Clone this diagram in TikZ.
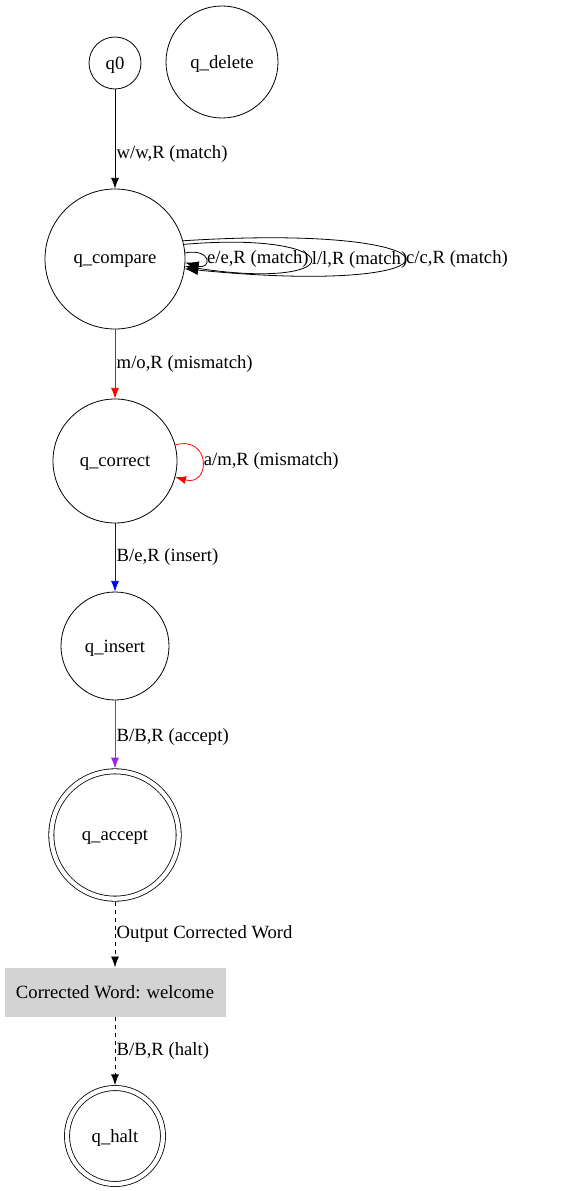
\documentclass[tikz,border=0pt]{standalone}
\usepackage{fontspec}
\setmainfont{Liberation Serif}
\usetikzlibrary{arrows.meta,positioning}

\definecolor{gvpurple}{RGB}{160,32,240}
\definecolor{gvgrey}{RGB}{211,211,211}

\begin{document}
\begin{tikzpicture}
        [x=0.75pt,y=-0.75pt,>={Latex[length=8pt,width=6pt]},
        every node/.style={font=\fontsize{14}{16}\selectfont},
        state/.style={draw,circle,inner sep=0pt,text depth=0pt,line width=0.6pt},
        final/.style={state,double,double distance=3.2pt,outer sep=2.2pt},
        lbl/.style={inner sep=1pt,anchor=west},
        edge/.style={->,line width=0.6pt},
        bigtip/.style={-{Latex[length=10pt,width=7.5pt]}}]

        \useasboundingbox (0,0) rectangle (561,1191);

        \node[state,minimum size=39pt] (q0) at (115,63) {q0};
        \node[state,minimum size=84pt] (del) at (222,62) {q\_delete};
        \node[state,minimum size=105pt] (cmp) at (115,259) {q\_compare};
        \node[state,minimum size=93pt] (cor) at (115,461) {q\_correct};
        \node[state,minimum size=81pt] (ins) at (115,646) {q\_insert};
        \node[final,minimum size=95.5pt] (acc) at (115,835) {q\_accept};
        \node[fill=gvgrey,minimum width=165.75pt,minimum height=36.75pt,inner sep=0pt] (word) at (115,992) {Corrected Word: welcome};
        \node[final,minimum size=72pt] (halt) at (115,1136) {q\_halt};

        \draw[edge] (q0) -- node[lbl,pos=0.65] {w/w,R (match)} (cmp);
        \draw[edge,bigtip] (cmp.5) .. controls (212,248) and (212,270) .. node[lbl,pos=0.5] {e/e,R (match)} (cmp.-3);
        \draw[edge,bigtip] (cmp.12) .. controls (352,230) and (352,292) .. node[lbl,pos=0.5] {l/l,R (match)} (cmp.-6);
        \draw[edge,bigtip] (cmp.15) .. controls (478,222) and (478,298) .. node[lbl,pos=0.5] {c/c,R (match)} (cmp.-8);

        \draw[edge,red] (cmp) -- node[lbl,black,pos=0.5] {m/o,R (mismatch)} (cor);
        \draw[edge,red] (cor.15) .. controls (211,435) and (211,487) .. node[lbl,black,pos=0.5] {a/m,R (mismatch)} (cor.-15);
        \draw[edge,blue] (cor) -- node[lbl,black,pos=0.49] {B/e,R (insert)} (ins);
        \draw[edge,gvpurple] (ins) -- node[lbl,black,pos=0.54] {B/B,R (accept)} (acc);

        \draw[edge,dashed] (acc) -- node[lbl,pos=0.5] {Output Corrected Word} (word);
        \draw[edge,dashed] (word) -- node[lbl,pos=0.5] {B/B,R (halt)} (halt);

    \end{tikzpicture}
\end{document}
